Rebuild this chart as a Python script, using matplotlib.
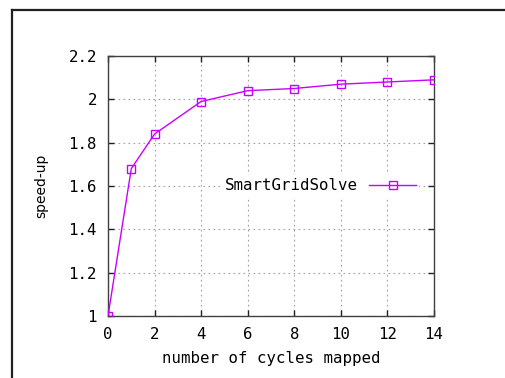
import numpy as np
import matplotlib.pyplot as plt
from matplotlib.lines import Line2D

# --- Data ---
cycles = [0, 1, 2, 4, 6, 8, 10, 12, 14]
speedup = [1.0, 1.68, 1.84, 1.99, 2.04, 2.05, 2.07, 2.08, 2.09]
series_label = "SmartGridSolve"
xticks = [0, 2, 4, 6, 8, 10, 12, 14]
yticks = [1, 1.2, 1.4, 1.6, 1.8, 2, 2.2]
ytick_labels = ["1", "1.2", "1.4", "1.6", "1.8", "2", "2.2"]

W, H = 505, 378
mono = "DejaVu Sans Mono"
fs = 11.3
color = "#c800ff"

fig = plt.figure(figsize=(W / 100, H / 100), dpi=100)
ax = fig.add_axes([108 / W, 1 - 316 / H, (434 - 108) / W, (316 - 56) / H])

# --- Plot ---
ax.plot(cycles, speedup, color=color, lw=1.0, marker="s", ms=5.2,
        mfc="none", mec=color, mew=1.0, label=series_label, zorder=3)

ax.set_xlim(0, 14)
ax.set_ylim(1, 2.2)
ax.set_xticks(xticks)
ax.set_xticklabels([str(t) for t in xticks])
ax.set_yticks(yticks)
ax.set_yticklabels(ytick_labels)

# --- Ticks + grid ---
ax.tick_params(direction="in", length=4.5, width=1, top=True, right=True,
               color="#202020", labelsize=fs, pad=8)
for lab in ax.get_xticklabels() + ax.get_yticklabels():
    lab.set_family(mono)
ax.grid(True, color="#a0a0a0", linestyle=(0, (1.5, 3)), lw=0.8)
for sp in ax.spines.values():
    sp.set_color("#404040")
    sp.set_linewidth(1)

# --- Labels ---
ax.set_xlabel("number of cycles mapped", fontsize=fs, family=mono)
ax.xaxis.set_label_coords(0.5, -(351 - 316) / (316 - 56))
ax.set_ylabel("speed-up", fontsize=10)
ax.yaxis.set_label_coords(-(108 - 48) / (434 - 108), 0.5)

# --- Legend (gnuplot style: text first, white box, no frame) ---
leg = ax.legend(loc="center right", bbox_to_anchor=(0.955, 0.5),
                markerfirst=False, handlelength=3.0, handletextpad=0.7,
                borderpad=0.2, borderaxespad=0, fancybox=False,
                prop={"family": mono, "size": fs})
leg.get_frame().set_facecolor("white")
leg.get_frame().set_edgecolor("none")
leg.get_frame().set_alpha(1)

# --- Outer frame (top and left edges) ---
fig.add_artist(Line2D([12 / W, 1], [1 - 10 / H, 1 - 10 / H],
                      transform=fig.transFigure, color="#202020", lw=1.6))
fig.add_artist(Line2D([12 / W, 12 / W], [0, 1 - 10 / H],
                      transform=fig.transFigure, color="#202020", lw=1.6))

fig.savefig("out.png", dpi=100)
